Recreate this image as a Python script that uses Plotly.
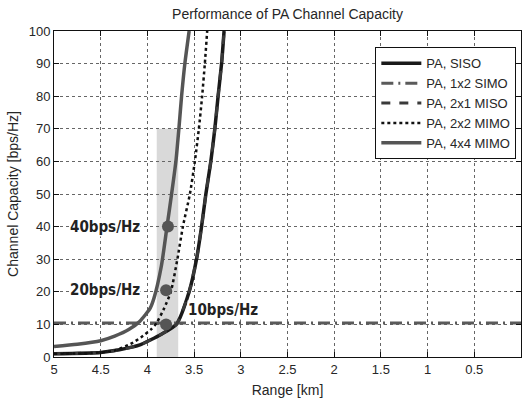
import plotly.graph_objects as go

# ---- data ----
siso_x = [5.0, 4.5, 4.3, 4.08, 3.97, 3.85, 3.69, 3.553, 3.474, 3.42, 3.374, 3.321, 3.278, 3.243, 3.206, 3.179]
siso_y = [1.0, 1.4, 2.2, 3.7, 5.2, 7.0, 10, 20, 30, 40, 50, 60, 70, 80, 90, 100]

miso_x = siso_x
miso_y = siso_y

simo_x = [5.0, 0.0]
simo_y = [10.4, 10.4]

mimo2_x = [5.0, 4.6, 4.35, 4.18, 4.07, 3.96, 3.9, 3.82, 3.749, 3.679, 3.62, 3.545, 3.492, 3.449, 3.414, 3.385, 3.36]
mimo2_y = [1.0, 1.2, 2.0, 4.0, 6.0, 8.5, 10.5, 15, 20, 30, 40, 50, 60, 70, 80, 90, 100]

mimo4_x = [5.0, 4.75, 4.5, 4.35, 4.2, 4.08, 3.97, 3.93, 3.85, 3.79, 3.741, 3.695, 3.663, 3.634, 3.599, 3.553]
mimo4_y = [3.2, 3.9, 5.0, 6.4, 8.4, 11.0, 15, 18, 28, 40, 50, 60, 70, 80, 90, 100]

marker_x = [3.78, 3.80, 3.80]
marker_y = [40, 20.5, 10]

labels = ["40bps/Hz", "20bps/Hz", "10bps/Hz"]
label_x = [4.455, 4.455, 3.19]
label_y = [40, 20.5, 14.5]

band_x = [3.9, 3.67]
band_y = [0, 70]

x_ticks = [5, 4.5, 4, 3.5, 3, 2.5, 2, 1.5, 1, 0.5, 0]
x_ticktext = ["5", "4.5", "4", "3.5", "3", "2.5", "2", "1.5", "1", "0.5", "0"]
y_ticks = list(range(0, 101, 10))

FONT = "Liberation Sans, Arial"
TXT = "#262626"

fig = go.Figure()

fig.add_trace(go.Scatter(x=siso_x, y=siso_y, mode="lines", name="PA, SISO",
                         line=dict(color="#1a1a1a", width=3.5, shape="spline", smoothing=0.6)))
fig.add_trace(go.Scatter(x=simo_x, y=simo_y, mode="lines", name="PA, 1x2 SIMO",
                         line=dict(color="#5a5a5a", width=3, dash="12px,5px,2px,5px")))
fig.add_trace(go.Scatter(x=miso_x, y=miso_y, mode="lines", name="PA, 2x1 MISO",
                         line=dict(color="#3a3a3a", width=3, dash="dash", shape="spline", smoothing=0.6)))
fig.add_trace(go.Scatter(x=mimo2_x, y=mimo2_y, mode="lines", name="PA, 2x2 MIMO",
                         line=dict(color="#111111", width=2.5, dash="dot", shape="spline", smoothing=0.6)))
fig.add_trace(go.Scatter(x=mimo4_x, y=mimo4_y, mode="lines", name="PA, 4x4 MIMO",
                         line=dict(color="#555555", width=3.5, shape="spline", smoothing=0.6)))
fig.add_trace(go.Scatter(x=marker_x, y=marker_y, mode="markers", showlegend=False,
                         marker=dict(color="#555555", size=12, line=dict(width=0))))

fig.add_shape(type="rect", x0=band_x[0], x1=band_x[1], y0=band_y[0], y1=band_y[1],
              xref="x", yref="y", fillcolor="#d9d9d9", line=dict(width=0), layer="below")

for t, lx, ly in zip(labels, label_x, label_y):
    fig.add_annotation(x=lx, y=ly, text="<b>" + t + "</b>", showarrow=False,
                       font=dict(family="DejaVu Sans Condensed, DejaVu Sans", size=15, color="#222222"),
                       bgcolor="white", borderpad=0)

axis_common = dict(showline=True, linecolor="#111111", linewidth=1, mirror="ticks",
                   ticks="inside", ticklen=5, tickcolor="#111111",
                   showgrid=True, gridcolor="#666666", gridwidth=1, griddash="dot",
                   zeroline=False,
                   tickfont=dict(family=FONT, size=13, color=TXT))

fig.update_xaxes(range=[5, 0], tickvals=x_ticks, ticktext=x_ticktext,
                 title=dict(text="Range [km]", standoff=9,
                            font=dict(family=FONT, size=14, color=TXT)),
                 **axis_common)
fig.update_yaxes(range=[0, 100], tickvals=y_ticks,
                 title=dict(text="Channel Capacity [bps/Hz]", standoff=6,
                            font=dict(family=FONT, size=14, color=TXT)),
                 **axis_common)

fig.update_layout(
    width=523, height=398,
    margin=dict(l=54, r=2, t=31, b=41),
    paper_bgcolor="white", plot_bgcolor="white",
    title=dict(text="Performance of PA Channel Capacity", x=0.5, xref="paper", xanchor="center",
               y=0.965, yanchor="middle",
               font=dict(family=FONT, size=14, color=TXT)),
    legend=dict(x=0.99, xanchor="right", y=0.95, yanchor="top",
                bgcolor="white", bordercolor="#111111", borderwidth=1,
                font=dict(family=FONT, size=13, color=TXT),
                tracegroupgap=0, itemwidth=40),
    showlegend=True,
)

fig.write_html("out.html")
